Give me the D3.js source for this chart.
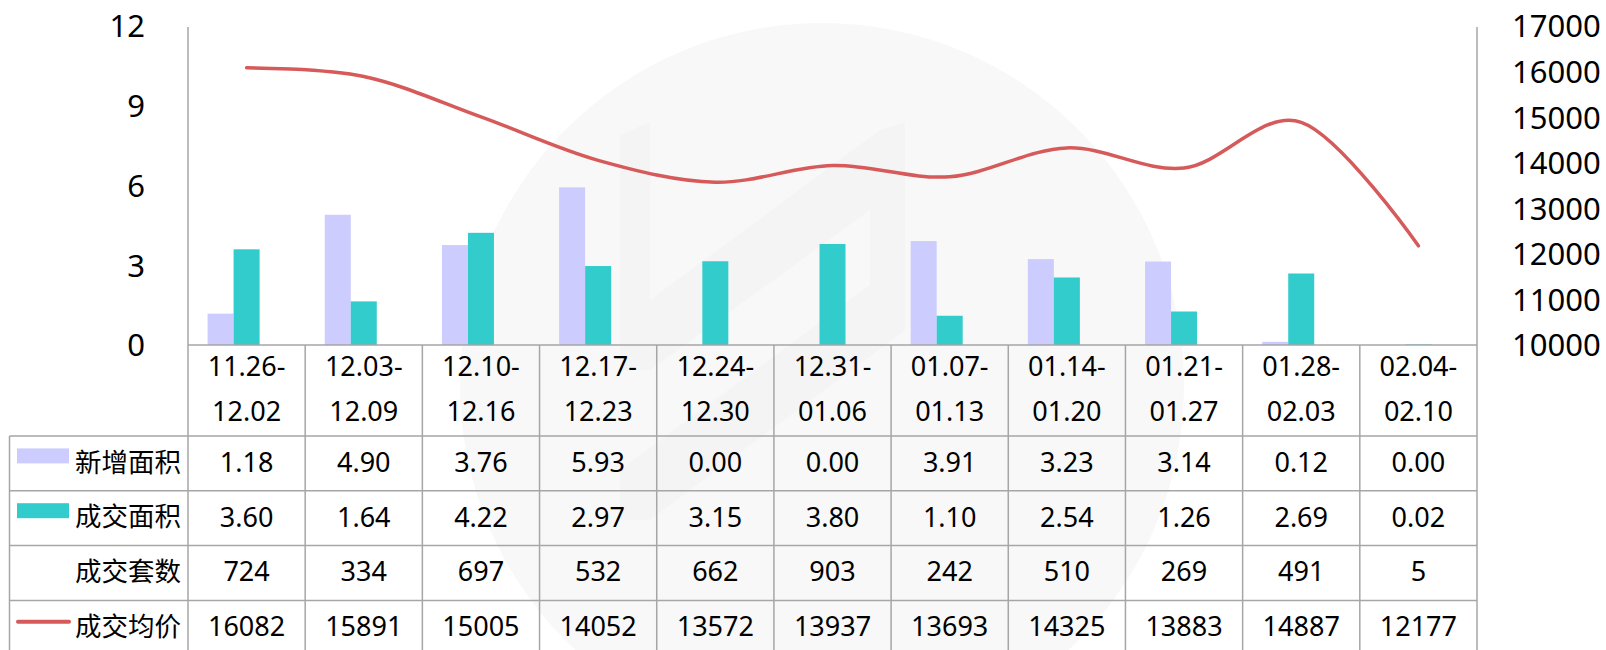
<!DOCTYPE html>
<html>
<head>
<meta charset="utf-8">
<script src="https://cdn.jsdelivr.net/npm/d3@7"></script>
<style>
  body { margin: 0; background: #fff; }
  svg { display: block; font-family: "Noto Sans", "Noto Sans CJK SC", sans-serif; }
</style>
</head>
<body>
<svg id="chart" width="1606" height="650"></svg>
<script>
// data
var categories = ["11.26-12.02", "12.03-12.09", "12.10-12.16", "12.17-12.23", "12.24-12.30",
    "12.31-01.06", "01.07-01.13", "01.14-01.20", "01.21-01.27", "01.28-02.03", "02.04-02.10"];
var newArea = [1.18, 4.90, 3.76, 5.93, 0.00, 0.00, 3.91, 3.23, 3.14, 0.12, 0.00];
var dealArea = [3.60, 1.64, 4.22, 2.97, 3.15, 3.80, 1.10, 2.54, 1.26, 2.69, 0.02];
var dealCount = [724, 334, 697, 532, 662, 903, 242, 510, 269, 491, 5];
var avgPrice = [16082, 15891, 15005, 14052, 13572, 13937, 13693, 14325, 13883, 14887, 12177];
var seriesNames = ["新增面积", "成交面积", "成交套数", "成交均价"];
var leftTicks = [0, 3, 6, 9, 12];
var rightTicks = [10000, 11000, 12000, 13000, 14000, 15000, 16000, 17000];

var colors = {"新增面积": "#ccccff", "成交面积": "#33cccc", "成交均价": "#d65a5a"};
var gridColor = "#a6a6a6";

var W = 1606, H = 650;
var m = {l: 188, r: 1477, t: 26, b: 345}; // plot box
var tableLeft = 9.5, headerBottom = 436, rowH = 54.8;

var svg = d3.select("#chart");

// faint watermark in the background
var wm = svg.append("g").attr("class", "watermark");
wm.append("circle").attr("cx", 822).attr("cy", 385).attr("r", 362).attr("fill", "#f8f8f8");
wm.append("path")
    .attr("d", "M620,135 L650,122 L650,300 L880,130 L905,122 L905,330 L650,520 L620,520 L620,470 L870,285 L870,210 L650,370 L620,370 Z")
    .attr("fill", "#f4f4f4");

var x = d3.scaleBand().domain(categories).range([m.l, m.r]).paddingInner(0.334).paddingOuter(0.167);
var xCol = d3.scaleBand().domain(categories).range([m.l, m.r]);
var xSub = d3.scaleBand().domain(seriesNames.slice(0, 3)).range([0, x.bandwidth()]);
var yL = d3.scaleLinear().domain([0, 12]).range([m.b, m.t]);
var yR = d3.scaleLinear().domain([10000, 17000]).range([m.b, m.t]);

// bars
var barSeries = [{name: "新增面积", values: newArea}, {name: "成交面积", values: dealArea}];
barSeries.forEach(function(s) {
    svg.append("g").selectAll("rect").data(s.values).join("rect")
        .attr("x", function(d, i) { return x(categories[i]) + xSub(s.name); })
        .attr("y", function(d) { return yL(d); })
        .attr("width", xSub.bandwidth())
        .attr("height", function(d) { return yL(0) - yL(d); })
        .attr("fill", colors[s.name]);
});

// price line
var line = d3.line()
    .x(function(d, i) { return xCol(categories[i]) + xCol.bandwidth() / 2; })
    .y(function(d) { return yR(d); })
    .curve(d3.curveCardinal.tension(0));
svg.append("path").datum(avgPrice)
    .attr("d", line)
    .attr("fill", "none")
    .attr("stroke", colors["成交均价"])
    .attr("stroke-width", 3.5)
    .attr("stroke-linecap", "round")
    .attr("stroke-linejoin", "round");

// axes (labels only, no tick marks)
var axL = svg.append("g").attr("transform", "translate(" + 145 + ",0)")
    .call(d3.axisLeft(yL).tickValues(leftTicks).tickSize(0).tickPadding(0));
var axR = svg.append("g").attr("transform", "translate(" + 1512 + ",0)")
    .call(d3.axisRight(yR).tickValues(rightTicks).tickSize(0).tickPadding(0).tickFormat(d3.format("d")));
[axL, axR].forEach(function(a) {
    a.select(".domain").remove();
    a.selectAll("text").attr("font-size", 31).attr("fill", "#000")
        .attr("font-family", "'Noto Sans', sans-serif").attr("dy", "0.35em");
});

// data table grid
var grid = svg.append("g").attr("stroke", gridColor).attr("stroke-width", 1.5);
var rowsY = d3.range(4).map(function(i) { return headerBottom + i * rowH; });
grid.append("line").attr("x1", m.l).attr("x2", m.l).attr("y1", m.t + 1).attr("y2", H);
grid.append("line").attr("x1", m.r).attr("x2", m.r).attr("y1", m.t + 1).attr("y2", H);
grid.append("line").attr("x1", m.l).attr("x2", m.r).attr("y1", m.b).attr("y2", m.b);
grid.append("line").attr("x1", tableLeft).attr("x2", tableLeft).attr("y1", headerBottom).attr("y2", H);
grid.selectAll(".vcol").data(categories.slice(1)).join("line")
    .attr("x1", function(d) { return xCol(d); }).attr("x2", function(d) { return xCol(d); })
    .attr("y1", m.b).attr("y2", H);
grid.selectAll(".hrow").data(rowsY).join("line")
    .attr("x1", tableLeft).attr("x2", m.r).attr("y1", function(d) { return d; }).attr("y2", function(d) { return d; });

// category header, two lines each
var head = svg.append("g").attr("font-size", 27).attr("text-anchor", "middle");
categories.forEach(function(c) {
    var parts = c.split("-");
    var cx = xCol(c) + xCol.bandwidth() / 2;
    head.append("text").attr("x", cx).attr("y", 367).attr("dy", "0.35em").text(parts[0] + "-");
    head.append("text").attr("x", cx).attr("y", 412).attr("dy", "0.35em").text(parts[1]);
});

// table rows
var tableRows = [
    {name: "新增面积", values: newArea.map(function(d) { return d.toFixed(2); })},
    {name: "成交面积", values: dealArea.map(function(d) { return d.toFixed(2); })},
    {name: "成交套数", values: dealCount.map(String)},
    {name: "成交均价", values: avgPrice.map(String)}
];
tableRows.forEach(function(r, ri) {
    var cy = headerBottom + ri * rowH + rowH / 2 - 1;
    var g = svg.append("g");
    g.append("text").attr("x", 181).attr("y", cy).attr("dy", "0.35em")
        .attr("text-anchor", "end").attr("font-size", 26.5)
        .attr("font-family", "'Noto Sans CJK SC', sans-serif").text(r.name);
    if (r.name === "成交均价") {
        g.append("line").attr("x1", 18).attr("x2", 69).attr("y1", cy - 5).attr("y2", cy - 5)
            .attr("stroke", colors[r.name]).attr("stroke-width", 4).attr("stroke-linecap", "round");
    } else if (colors[r.name]) {
        g.append("rect").attr("x", 17).attr("y", cy - 14).attr("width", 52).attr("height", 15)
            .attr("fill", colors[r.name]);
    }
    g.selectAll(".v").data(r.values).join("text")
        .attr("x", function(d, i) { return xCol(categories[i]) + xCol.bandwidth() / 2; })
        .attr("y", cy).attr("dy", "0.35em")
        .attr("text-anchor", "middle").attr("font-size", 27)
        .text(function(d) { return d; });
});
</script>
</body>
</html>
